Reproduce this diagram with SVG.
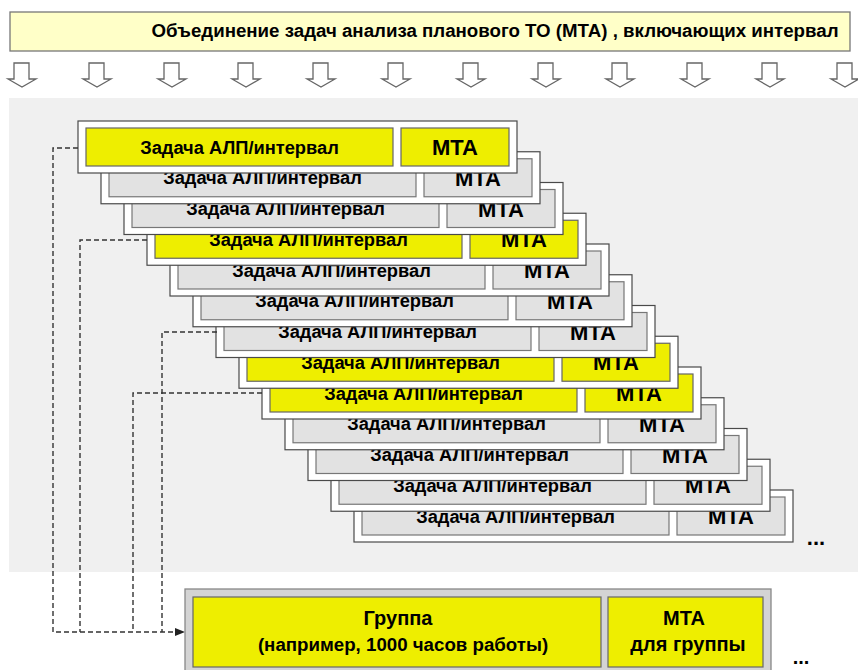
<svg xmlns="http://www.w3.org/2000/svg" width="858" height="670" viewBox="0 0 858 670">
<style>
text{font-family:"Liberation Sans",Arial,sans-serif;font-weight:bold;fill:#000;text-anchor:middle}
.outer{fill:#fff;stroke:#4a4a4a;stroke-width:1.2}
.y{fill:#eeee00;stroke:#666;stroke-width:1.2}
.g{fill:#e2e2e2;stroke:#777;stroke-width:1.2}
.t{font-size:18.3px}
.m{font-size:22px}
.arr{fill:#fff;stroke:#666;stroke-width:1.3;stroke-linejoin:miter}
.dash{fill:none;stroke:#333;stroke-width:1.4;stroke-dasharray:5 3}
.gt{font-size:20px}
</style>
<defs>
<marker id="ah" markerWidth="10" markerHeight="8" refX="9" refY="4" orient="auto" markerUnits="userSpaceOnUse">
<path d="M0,0 L10,4 L0,8 Z" fill="#222"/>
</marker>
<path id="darr" d="M-8,0 H7 V16 H14 L0,24 L-14,16 H-8 Z"/>
</defs>
<rect x="9" y="98" width="849" height="474" fill="#f0f0f0"/>
<g id="banner">
<rect x="10" y="12" width="840" height="39" fill="#ffffc8" stroke="#777" stroke-width="1.3"/>
<text x="495" y="37" font-size="18.7px">Объединение задач анализа планового ТО (МТА) , включающих интервал</text>
</g>
<g id="arrows">
<use href="#darr" class="arr" x="22" y="63"/>
<use href="#darr" class="arr" x="97" y="63"/>
<use href="#darr" class="arr" x="172" y="63"/>
<use href="#darr" class="arr" x="246" y="63"/>
<use href="#darr" class="arr" x="321" y="63"/>
<use href="#darr" class="arr" x="396" y="63"/>
<use href="#darr" class="arr" x="471" y="63"/>
<use href="#darr" class="arr" x="546" y="63"/>
<use href="#darr" class="arr" x="620" y="63"/>
<use href="#darr" class="arr" x="695" y="63"/>
<use href="#darr" class="arr" x="770" y="63"/>
<use href="#darr" class="arr" x="845" y="63"/>
</g>
<g id="card13" transform="translate(354,490)"><rect class="outer" width="439" height="52"/><rect class="g" x="8" y="7" width="307" height="38"/><rect class="g" x="323" y="7" width="108" height="38"/><text class="t" x="161.5" y="32.5">Задача АЛП/интервал</text><text class="m" x="377" y="34">MTA</text></g>
<g id="card12" transform="translate(331,459.25)"><rect class="outer" width="439" height="52"/><rect class="g" x="8" y="7" width="307" height="38"/><rect class="g" x="323" y="7" width="108" height="38"/><text class="t" x="161.5" y="32.5">Задача АЛП/интервал</text><text class="m" x="377" y="34">MTA</text></g>
<g id="card11" transform="translate(308,428.5)"><rect class="outer" width="439" height="52"/><rect class="g" x="8" y="7" width="307" height="38"/><rect class="g" x="323" y="7" width="108" height="38"/><text class="t" x="161.5" y="32.5">Задача АЛП/интервал</text><text class="m" x="377" y="34">MTA</text></g>
<g id="card10" transform="translate(285,397.75)"><rect class="outer" width="439" height="52"/><rect class="g" x="8" y="7" width="307" height="38"/><rect class="g" x="323" y="7" width="108" height="38"/><text class="t" x="161.5" y="32.5">Задача АЛП/интервал</text><text class="m" x="377" y="34">MTA</text></g>
<g id="card9" transform="translate(262,367)"><rect class="outer" width="439" height="52"/><rect class="y" x="8" y="7" width="307" height="38"/><rect class="y" x="323" y="7" width="108" height="38"/><text class="t" x="161.5" y="32.5">Задача АЛП/интервал</text><text class="m" x="377" y="34">MTA</text></g>
<g id="card8" transform="translate(239,336.25)"><rect class="outer" width="439" height="52"/><rect class="y" x="8" y="7" width="307" height="38"/><rect class="y" x="323" y="7" width="108" height="38"/><text class="t" x="161.5" y="32.5">Задача АЛП/интервал</text><text class="m" x="377" y="34">MTA</text></g>
<g id="card7" transform="translate(216,305.5)"><rect class="outer" width="439" height="52"/><rect class="g" x="8" y="7" width="307" height="38"/><rect class="g" x="323" y="7" width="108" height="38"/><text class="t" x="161.5" y="32.5">Задача АЛП/интервал</text><text class="m" x="377" y="34">MTA</text></g>
<g id="card6" transform="translate(193,274.75)"><rect class="outer" width="439" height="52"/><rect class="g" x="8" y="7" width="307" height="38"/><rect class="g" x="323" y="7" width="108" height="38"/><text class="t" x="161.5" y="32.5">Задача АЛП/интервал</text><text class="m" x="377" y="34">MTA</text></g>
<g id="card5" transform="translate(170,244)"><rect class="outer" width="439" height="52"/><rect class="g" x="8" y="7" width="307" height="38"/><rect class="g" x="323" y="7" width="108" height="38"/><text class="t" x="161.5" y="32.5">Задача АЛП/интервал</text><text class="m" x="377" y="34">MTA</text></g>
<g id="card4" transform="translate(147,213.25)"><rect class="outer" width="439" height="52"/><rect class="y" x="8" y="7" width="307" height="38"/><rect class="y" x="323" y="7" width="108" height="38"/><text class="t" x="161.5" y="32.5">Задача АЛП/интервал</text><text class="m" x="377" y="34">MTA</text></g>
<g id="card3" transform="translate(124,182.5)"><rect class="outer" width="439" height="52"/><rect class="g" x="8" y="7" width="307" height="38"/><rect class="g" x="323" y="7" width="108" height="38"/><text class="t" x="161.5" y="32.5">Задача АЛП/интервал</text><text class="m" x="377" y="34">MTA</text></g>
<g id="card2" transform="translate(101,151.75)"><rect class="outer" width="439" height="52"/><rect class="g" x="8" y="7" width="307" height="38"/><rect class="g" x="323" y="7" width="108" height="38"/><text class="t" x="161.5" y="32.5">Задача АЛП/интервал</text><text class="m" x="377" y="34">MTA</text></g>
<g id="card1" transform="translate(78,121)"><rect class="outer" width="439" height="52"/><rect class="y" x="8" y="7" width="307" height="38"/><rect class="y" x="323" y="7" width="108" height="38"/><text class="t" x="161.5" y="32.5">Задача АЛП/интервал</text><text class="m" x="377" y="34">MTA</text></g>
<text x="816" y="545" font-size="22px">...</text>
<g id="connectors">
<path class="dash" d="M78,148 H53 V632 H184" marker-end="url(#ah)"/>
<path class="dash" d="M147,240 H80 V632"/>
<path class="dash" d="M217,332 H162 V632"/>
<path class="dash" d="M262,393 H133 V632"/>
</g>
<g id="group">
<rect x="185" y="589" width="586" height="95" fill="#d4d4d4" stroke="#888" stroke-width="1.3"/>
<rect class="y" x="193" y="597" width="408" height="70"/>
<rect class="y" x="608" y="597" width="155" height="70"/>
<text class="gt" x="398" y="625">Группа</text>
<text x="403" y="651" font-size="18.7px">(например, 1000 часов работы)</text>
<text class="gt" x="684" y="625">МТА</text>
<text class="gt" x="688" y="651">для группы</text>
</g>
<text x="801" y="664" font-size="20px">...</text>
</svg>
